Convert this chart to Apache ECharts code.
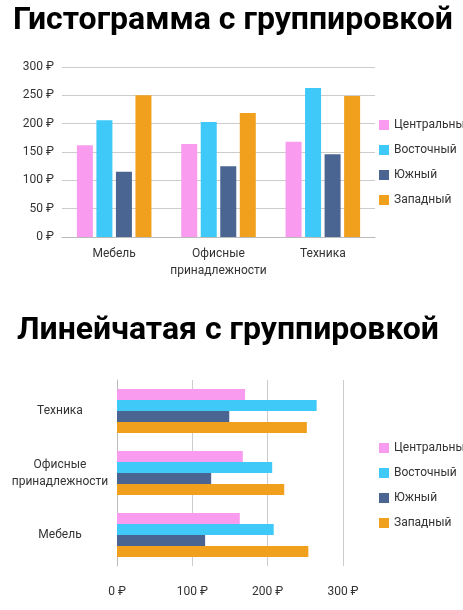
<!DOCTYPE html><html><head><meta charset="utf-8"><script src="https://cdn.jsdelivr.net/npm/echarts@6/dist/echarts.min.js"></script>
<style>html,body{margin:0;background:#fff}#c{width:463px;height:610px}</style></head><body><div id="c"></div><script>
const categories=['Мебель','Офисные\nпринадлежности','Техника'];
const seriesNames=['Центральный','Восточный','Южный','Западный'];
const colTop=[[162,164,168],[206,203,263],[115,125,146],[250,219,249]];
const colBottom=[[163,167,170],[208,206,265],[117,125,149],[254,222,252]];
const colors=['#f99cf0','#3ec9f8','#4a6591','#f0a01c'];
const chart=echarts.init(document.getElementById('c'));
const tf='Roboto, "Noto Sans", sans-serif';
const series=[];
seriesNames.forEach((n,i)=>{
 series.push({name:n,type:'bar',xAxisIndex:0,yAxisIndex:0,data:colTop[i],barWidth:16,barGap:'22%',itemStyle:{color:colors[i]}});
 series.push({name:n,type:'bar',xAxisIndex:1,yAxisIndex:1,data:colBottom[i],barWidth:11,barGap:'0%',itemStyle:{color:colors[i]}});
});
const leg=(top)=>({orient:'vertical',left:374,top:top,itemWidth:10,itemHeight:10,itemGap:13,icon:'rect',textStyle:{fontFamily:tf,fontSize:12,color:'#333',width:90,overflow:'none'},data:seriesNames});
chart.setOption({
 animation:false,color:colors,
 title:[{text:'Гистограмма с группировкой',left:8,top:0,textStyle:{fontFamily:tf,fontSize:32,fontWeight:'bold',color:'#000'}},
        {text:'Линейчатая с группировкой',left:12,top:310,textStyle:{fontFamily:tf,fontSize:32,fontWeight:'bold',color:'#000'}}],
 legend:[leg(114),leg(437)],
 grid:[{left:62,top:67,width:313,height:170},{left:117,top:380,width:226,height:186}],
 xAxis:[{gridIndex:0,type:'category',data:categories,axisTick:{show:false},axisLine:{lineStyle:{color:'#bbb'}},axisLabel:{interval:0,fontFamily:tf,fontSize:12,color:'#333',lineHeight:17}},
        {gridIndex:1,type:'value',min:0,max:300,interval:100,axisLabel:{formatter:'{value} ₽',fontFamily:tf,fontSize:12,color:'#333',margin:20},splitLine:{lineStyle:{color:'#ccc'}}}],
 yAxis:[{gridIndex:0,type:'value',min:0,max:300,interval:50,axisLabel:{formatter:'{value} ₽',fontFamily:tf,fontSize:12,color:'#333'},splitLine:{lineStyle:{color:'#ccc'}}},
        {gridIndex:1,type:'category',data:categories,axisTick:{show:false},axisLine:{lineStyle:{color:'#bbb'}},axisLabel:{interval:0,fontFamily:tf,fontSize:12,color:'#333',lineHeight:17,align:'center',margin:57}}],
 series:series
});
</script></body></html>
